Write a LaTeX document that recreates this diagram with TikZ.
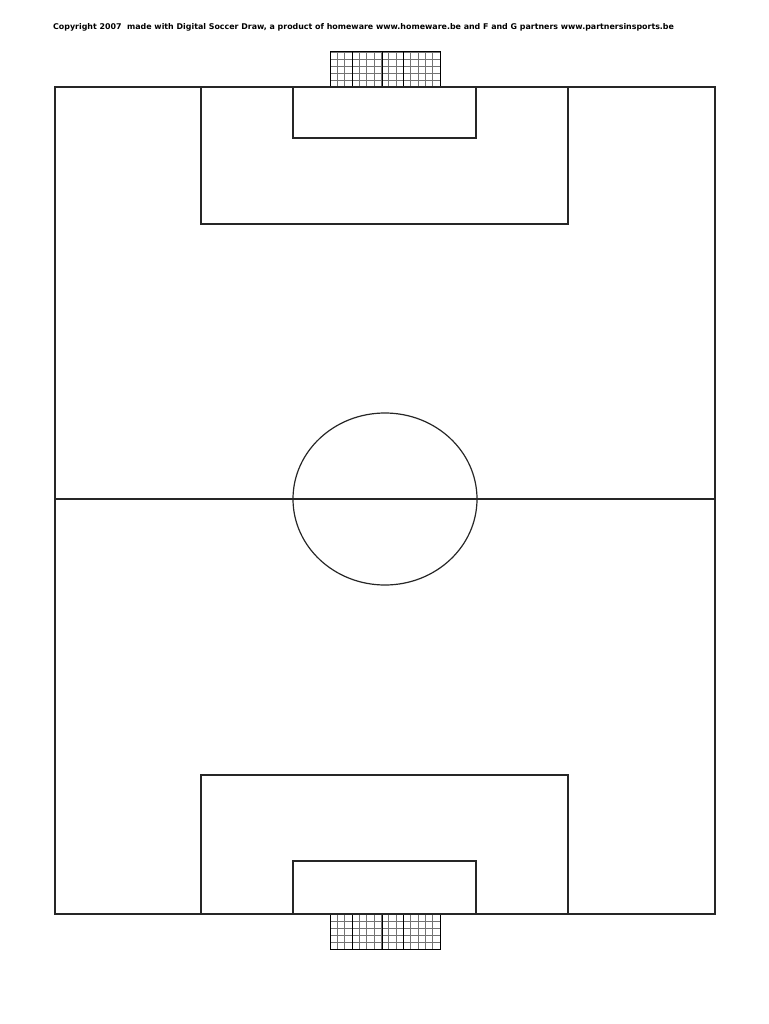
\documentclass[tikz,border=0pt]{standalone}
\usepackage{fontspec}
\setmainfont{DejaVu Sans}
\usepackage{tikz}

\begin{document}
\begin{tikzpicture}[%
        x=1pt,
        y=-1pt,
        line/.style={draw=black!85, line width=1.2pt},
        netthin/.style={draw=black!55, line width=0.6pt},
        netthick/.style={draw=black, line width=1pt}
        ]
        \useasboundingbox (0,0) rectangle (768,1024);

        \node[anchor=west, inner sep=0pt, font=\fontsize{7.9}{9}\selectfont\bfseries] (credit) at (53,27)
            {Copyright 2007\ \ made with Digital Soccer Draw, a product of homeware www.homeware.be and F and G partners www.partnersinsports.be};

        % nets
        \foreach \ytop/\ybot in {52/87, 914/949} {
            \foreach \i in {0,...,15}
                \draw[netthin] (330+\i*7.33,\ytop) -- (330+\i*7.33,\ybot);
            \foreach \j in {0,...,5}
                \draw[netthin] (330,\ytop+\j*7) -- (440,\ytop+\j*7);
            \foreach \xx in {330,352,382,403,440}
                \draw[netthick] (\xx,\ytop) -- (\xx,\ybot);
            \draw[netthick] (330,\ytop) rectangle (440,\ybot);
        }

        % field
        \draw[line] (55,87) rectangle (715,914);
        \draw[line] (55,499) -- (715,499);
        \draw[line] (385,499) ellipse [x radius=92, y radius=86];

        % penalty and goal areas
        \draw[line] (201,87) rectangle (568,224);
        \draw[line] (293,87) rectangle (476,138);
        \draw[line] (201,914) rectangle (568,775);
        \draw[line] (293,914) rectangle (476,861);

\end{tikzpicture}
\end{document}
